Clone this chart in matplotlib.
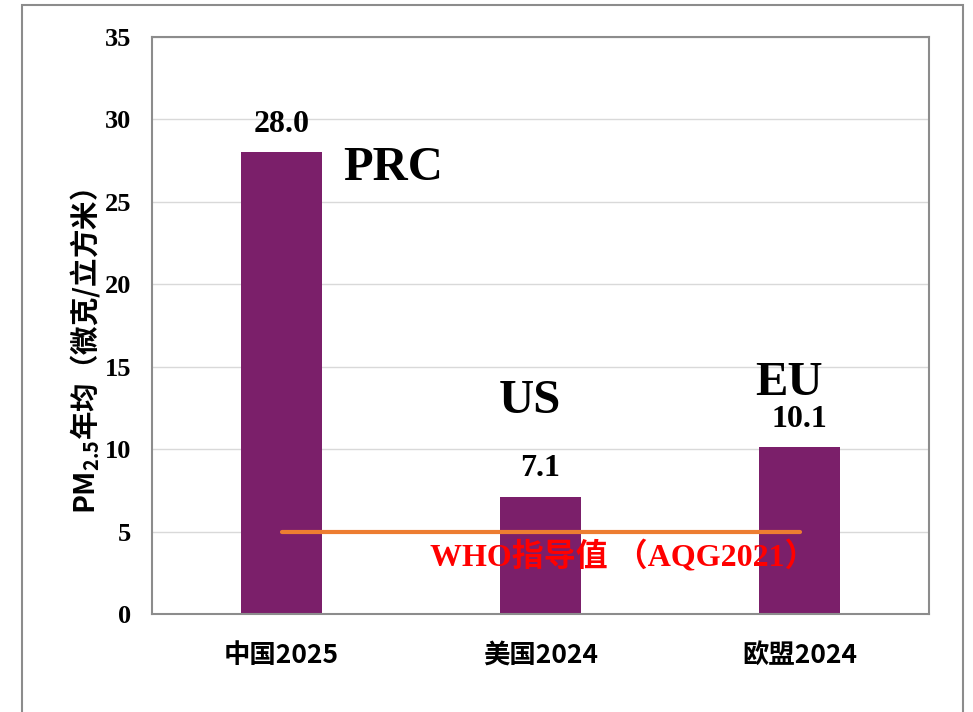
import matplotlib.pyplot as plt
from matplotlib.patches import Rectangle

plt.rcParams['mathtext.default'] = 'regular'

categories = ['中国2025', '美国2024', '欧盟2024']
values = [28.0, 7.1, 10.1]
region_tags = ['PRC', 'US', 'EU']
tag_pos = [(0.24, 27.05, 'left'), (0.96, 12.9, 'center'), (1.96, 14.0, 'center')]
who_value = 5
who_label = 'WHO指导值 （AQG2021）'
y_ticks = [0, 5, 10, 15, 20, 25, 30, 35]

serif = ['Liberation Serif', 'Noto Sans CJK SC']
cjk = 'Noto Sans CJK SC'

fig = plt.figure(figsize=(9.73, 7.12), dpi=100)
# outer frame, bottom edge runs off the picture
fig.patches.append(Rectangle((22 / 973, -0.05), (963 - 22) / 973, 1 - 5 / 712 + 0.05,
                             transform=fig.transFigure, fill=False,
                             edgecolor='#8c8c8c', linewidth=1.5))

ax = fig.add_axes([152 / 973, 1 - 614 / 712, (929 - 152) / 973, (614 - 37) / 712])
x = range(len(categories))
ax.bar(x, values, width=0.31, color='#7B1F6A', zorder=2)
ax.set_xlim(-0.5, 2.5)
ax.set_ylim(0, 35)
ax.set_yticks(y_ticks)
ax.set_yticklabels([str(t) for t in y_ticks], fontfamily=serif, fontweight='bold', fontsize=19)
ax.set_xticks(list(x))
ax.set_xticklabels(categories, fontfamily=cjk, fontweight='bold', fontsize=19)
ax.tick_params(axis='y', length=0, pad=15)
ax.tick_params(axis='x', length=0, pad=20)
ax.yaxis.grid(True, color='#d9d9d9', linewidth=1, zorder=0)
ax.set_axisbelow(True)
for s in ax.spines.values():
    s.set_color('#8c8c8c')
    s.set_linewidth(1.5)

ax.set_ylabel('PM$_{2.5}$年均（微克/立方米）', fontfamily=cjk, fontweight='bold', fontsize=20.5)
ax.yaxis.set_label_coords(-0.064, 0.455)

for i, v in enumerate(values):
    ax.annotate(f'{v:.1f}', (i, v), xytext=(0, 10), textcoords='offset points',
                ha='center', va='bottom', fontfamily=serif, fontweight='bold', fontsize=23)

for tag, (tx, ty, ha) in zip(region_tags, tag_pos):
    ax.text(tx, ty, tag, ha=ha, va='center', fontfamily=serif, fontweight='bold', fontsize=35)

ax.plot([0, 2], [who_value, who_value], color='#ED7D31', linewidth=3, solid_capstyle='round', zorder=3)
ax.text(1.32, 3.45, who_label, ha='center', va='center', color='#FF0000',
        fontfamily=serif, fontweight='bold', fontsize=23, zorder=4)

fig.savefig('out.png', dpi=100)
